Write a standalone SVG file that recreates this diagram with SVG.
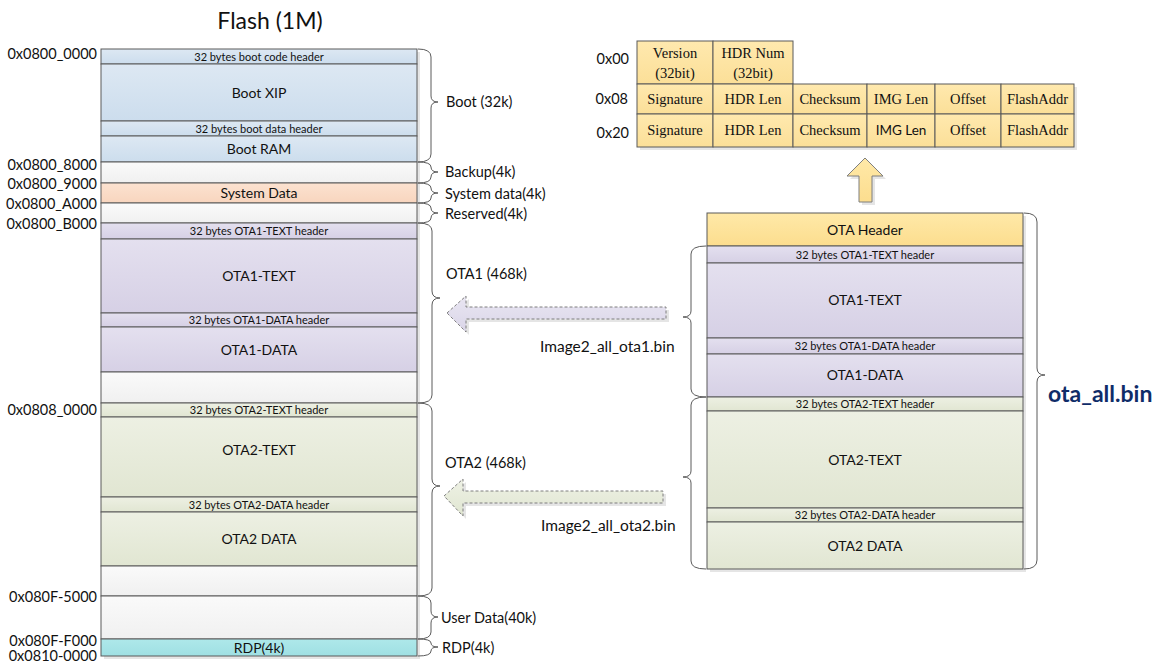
<svg xmlns="http://www.w3.org/2000/svg" width="1164" height="662" viewBox="0 0 1164 662">
  <defs>
    <linearGradient id="gBoot" x1="0" y1="0" x2="0" y2="1">
      <stop offset="0" stop-color="#DDE8F3"/><stop offset="1" stop-color="#CCDDED"/>
    </linearGradient>
    <linearGradient id="gEmpty" x1="0" y1="0" x2="0" y2="1">
      <stop offset="0" stop-color="#FAFAFA"/><stop offset="1" stop-color="#F0F0F0"/>
    </linearGradient>
    <linearGradient id="gSys" x1="0" y1="0" x2="0" y2="1">
      <stop offset="0" stop-color="#FCE2D0"/><stop offset="1" stop-color="#F8D5BE"/>
    </linearGradient>
    <linearGradient id="gOta1" x1="0" y1="0" x2="0" y2="1">
      <stop offset="0" stop-color="#E4E0EF"/><stop offset="1" stop-color="#D6D0E5"/>
    </linearGradient>
    <linearGradient id="gOta2" x1="0" y1="0" x2="0" y2="1">
      <stop offset="0" stop-color="#EDF0E3"/><stop offset="1" stop-color="#E1E6D2"/>
    </linearGradient>
    <linearGradient id="gRdp" x1="0" y1="0" x2="0" y2="1">
      <stop offset="0" stop-color="#AEE8EA"/><stop offset="1" stop-color="#9FE0E3"/>
    </linearGradient>
    <linearGradient id="gYel" x1="0" y1="0" x2="0" y2="1">
      <stop offset="0" stop-color="#FFE9A8"/><stop offset="1" stop-color="#FCDD8E"/>
    </linearGradient>
    <linearGradient id="gCell" x1="0" y1="0" x2="0" y2="1">
      <stop offset="0" stop-color="#FFE9AE"/><stop offset="1" stop-color="#FBDF98"/>
    </linearGradient>
    <linearGradient id="gArr1" x1="0" y1="0" x2="0" y2="1">
      <stop offset="0" stop-color="#E9E6F2"/><stop offset="1" stop-color="#DAD5E8"/>
    </linearGradient>
    <linearGradient id="gArr2" x1="0" y1="0" x2="0" y2="1">
      <stop offset="0" stop-color="#EEF1E5"/><stop offset="1" stop-color="#E0E6D1"/>
    </linearGradient>
  </defs>
  <style>
    .blk { stroke: #5A5A5A; stroke-width: 1; }
    .cell { fill: url(#gCell); stroke: #5A5A5A; stroke-width: 1; }
    .shadow { fill: #000; opacity: 0.10; }
    .t { font-family: Lato, "Open Sans", sans-serif; fill: #111; text-anchor: middle; }
    .big { font-size: 14px; }
    .small { font-size: 11px; }
    .addr { font-family: Lato, "Open Sans", sans-serif; font-size: 14.5px; fill: #111; text-anchor: end; }
    .lbl { font-family: Lato, "Open Sans", sans-serif; font-size: 14.5px; fill: #111; }
    .file { font-size: 15.5px; }
    .ser { font-family: "Liberation Serif", "Times New Roman", serif; font-size: 14.5px; fill: #111; text-anchor: middle; }
    .brace { fill: none; stroke: #5A5A5A; stroke-width: 1; }
  </style>

  <!-- title -->
  <text x="270" y="29" class="lbl" style="font-size:23px" text-anchor="middle">Flash (1M)</text>

  <!-- flash map, left column -->
  <g id="flash-map">
    <rect x="104" y="52" width="316" height="607" class="shadow"/>
    <g id="boot-code-header"><rect x="101" y="49" width="316" height="15" fill="url(#gBoot)" class="blk"/><text x="259" y="60.5" class="t small">32 bytes boot code header</text></g>
    <g id="boot-xip"><rect x="101" y="64" width="316" height="57" fill="url(#gBoot)" class="blk"/><text x="259" y="98" class="t big">Boot XIP</text></g>
    <g id="boot-data-header"><rect x="101" y="121" width="316" height="15" fill="url(#gBoot)" class="blk"/><text x="259" y="132.5" class="t small">32 bytes boot data header</text></g>
    <g id="boot-ram"><rect x="101" y="136" width="316" height="26" fill="url(#gBoot)" class="blk"/><text x="259" y="154" class="t big">Boot RAM</text></g>
    <g id="backup"><rect x="101" y="162" width="316" height="21" fill="url(#gEmpty)" class="blk"/></g>
    <g id="system-data"><rect x="101" y="183" width="316" height="20" fill="url(#gSys)" class="blk"/><text x="259" y="198" class="t big">System Data</text></g>
    <g id="reserved"><rect x="101" y="203" width="316" height="20" fill="url(#gEmpty)" class="blk"/></g>
    <g id="ota1-text-header"><rect x="101" y="223" width="316" height="16" fill="url(#gOta1)" class="blk"/><text x="259" y="234.5" class="t small">32 bytes OTA1-TEXT header</text></g>
    <g id="ota1-text"><rect x="101" y="239" width="316" height="74" fill="url(#gOta1)" class="blk"/><text x="259" y="281" class="t big">OTA1-TEXT</text></g>
    <g id="ota1-data-header"><rect x="101" y="313" width="316" height="14" fill="url(#gOta1)" class="blk"/><text x="259" y="324" class="t small">32 bytes OTA1-DATA header</text></g>
    <g id="ota1-data"><rect x="101" y="327" width="316" height="45" fill="url(#gOta1)" class="blk"/><text x="259" y="355" class="t big">OTA1-DATA</text></g>
    <g id="ota1-free"><rect x="101" y="372" width="316" height="31" fill="url(#gEmpty)" class="blk"/></g>
    <g id="ota2-text-header"><rect x="101" y="403" width="316" height="14" fill="url(#gOta2)" class="blk"/><text x="259" y="414" class="t small">32 bytes OTA2-TEXT header</text></g>
    <g id="ota2-text"><rect x="101" y="417" width="316" height="80" fill="url(#gOta2)" class="blk"/><text x="259" y="455" class="t big">OTA2-TEXT</text></g>
    <g id="ota2-data-header"><rect x="101" y="497" width="316" height="15" fill="url(#gOta2)" class="blk"/><text x="259" y="508.5" class="t small">32 bytes OTA2-DATA header</text></g>
    <g id="ota2-data"><rect x="101" y="512" width="316" height="54" fill="url(#gOta2)" class="blk"/><text x="259" y="544" class="t big">OTA2 DATA</text></g>
    <g id="ota2-free"><rect x="101" y="566" width="316" height="30" fill="url(#gEmpty)" class="blk"/></g>
    <g id="user-data"><rect x="101" y="596" width="316" height="43" fill="url(#gEmpty)" class="blk"/></g>
    <g id="rdp"><rect x="101" y="639" width="316" height="17" fill="url(#gRdp)" class="blk"/><text x="259" y="653" class="t big">RDP(4k)</text></g>
  </g>

  <!-- addresses -->
  <g id="addresses">
    <text x="97" y="59" class="addr">0x0800_0000</text>
    <text x="97" y="170" class="addr">0x0800_8000</text>
    <text x="97" y="189" class="addr">0x0800_9000</text>
    <text x="97" y="209" class="addr">0x0800_A000</text>
    <text x="97" y="229" class="addr">0x0800_B000</text>
    <text x="97" y="415" class="addr">0x0808_0000</text>
    <text x="97" y="602" class="addr">0x080F-5000</text>
    <text x="97" y="646" class="addr">0x080F-F000</text>
    <text x="97" y="661" class="addr">0x0810-0000</text>
  </g>

  <!-- region labels -->
  <g id="region-labels">
    <text x="446" y="107" class="lbl">Boot (32k)</text>
    <text x="445" y="177" class="lbl">Backup(4k)</text>
    <text x="445" y="199" class="lbl">System data(4k)</text>
    <text x="445" y="219" class="lbl">Reserved(4k)</text>
    <text x="446" y="279" class="lbl">OTA1 (468k)</text>
    <text x="445" y="468" class="lbl">OTA2 (468k)</text>
    <text x="441" y="623" class="lbl">User Data(40k)</text>
    <text x="442" y="653" class="lbl">RDP(4k)</text>
    <text x="540" y="352" class="lbl file">Image2_all_ota1.bin</text>
    <text x="541" y="531" class="lbl file">Image2_all_ota2.bin</text>
    <text x="1048" y="402" class="lbl" style="font-size:23px;font-weight:bold;fill:#0F2C68">ota_all.bin</text>
  </g>

  <!-- OTA image, right column -->
  <g id="ota-image">
    <rect x="710" y="216" width="316" height="356" class="shadow"/>
    <g id="ota-header"><rect x="707" y="213" width="316" height="33" fill="url(#gYel)" class="blk"/><text x="865" y="235" class="t big">OTA Header</text></g>
    <g id="img-ota1-text-header"><rect x="707" y="246" width="316" height="17" fill="url(#gOta1)" class="blk"/><text x="865" y="258.5" class="t small">32 bytes OTA1-TEXT header</text></g>
    <g id="img-ota1-text"><rect x="707" y="263" width="316" height="75" fill="url(#gOta1)" class="blk"/><text x="865" y="305" class="t big">OTA1-TEXT</text></g>
    <g id="img-ota1-data-header"><rect x="707" y="338" width="316" height="16" fill="url(#gOta1)" class="blk"/><text x="865" y="350" class="t small">32 bytes OTA1-DATA header</text></g>
    <g id="img-ota1-data"><rect x="707" y="354" width="316" height="43" fill="url(#gOta1)" class="blk"/><text x="865" y="380" class="t big">OTA1-DATA</text></g>
    <g id="img-ota2-text-header"><rect x="707" y="397" width="316" height="14" fill="url(#gOta2)" class="blk"/><text x="865" y="408" class="t small">32 bytes OTA2-TEXT header</text></g>
    <g id="img-ota2-text"><rect x="707" y="411" width="316" height="97" fill="url(#gOta2)" class="blk"/><text x="865" y="465" class="t big">OTA2-TEXT</text></g>
    <g id="img-ota2-data-header"><rect x="707" y="508" width="316" height="14" fill="url(#gOta2)" class="blk"/><text x="865" y="519" class="t small">32 bytes OTA2-DATA header</text></g>
    <g id="img-ota2-data"><rect x="707" y="522" width="316" height="47" fill="url(#gOta2)" class="blk"/><text x="865" y="551" class="t big">OTA2 DATA</text></g>
  </g>

  <!-- OTA header layout table -->
  <g id="header-table">
    <rect x="640" y="44" width="153" height="43" class="shadow"/>
    <rect x="640" y="87" width="437" height="63" class="shadow"/>
    <g id="row-00">
      <rect x="637" y="41" width="76" height="43" class="cell"/>
      <rect x="713" y="41" width="80" height="43" class="cell"/>
      <text x="675" y="58" class="ser">Version</text><text x="675" y="78" class="ser">(32bit)</text>
      <text x="753" y="58" class="ser">HDR Num</text><text x="753" y="78" class="ser">(32bit)</text>
    </g>
    <g id="row-08">
      <rect x="637" y="84" width="76" height="30" class="cell"/>
      <rect x="713" y="84" width="80" height="30" class="cell"/>
      <rect x="793" y="84" width="74" height="30" class="cell"/>
      <rect x="867" y="84" width="68" height="30" class="cell"/>
      <rect x="935" y="84" width="66" height="30" class="cell"/>
      <rect x="1001" y="84" width="73" height="30" class="cell"/>
      <text x="675" y="104" class="ser">Signature</text>
      <text x="753" y="104" class="ser">HDR Len</text>
      <text x="830" y="104" class="ser">Checksum</text>
      <text x="901" y="104" class="ser">IMG Len</text>
      <text x="968" y="104" class="ser">Offset</text>
      <text x="1037.5" y="104" class="ser">FlashAddr</text>
    </g>
    <g id="row-20">
      <rect x="637" y="114" width="76" height="33" class="cell"/>
      <rect x="713" y="114" width="80" height="33" class="cell"/>
      <rect x="793" y="114" width="74" height="33" class="cell"/>
      <rect x="867" y="114" width="68" height="33" class="cell"/>
      <rect x="935" y="114" width="66" height="33" class="cell"/>
      <rect x="1001" y="114" width="73" height="33" class="cell"/>
      <text x="675" y="135" class="ser">Signature</text>
      <text x="753" y="135" class="ser">HDR Len</text>
      <text x="830" y="135" class="ser">Checksum</text>
      <text x="901" y="135" class="t" style="font-size:13.5px">IMG Len</text>
      <text x="968" y="135" class="ser">Offset</text>
      <text x="1037.5" y="135" class="ser">FlashAddr</text>
    </g>
    <text x="629" y="64" class="addr">0x00</text>
    <text x="628" y="104" class="addr">0x08</text>
    <text x="629" y="138" class="addr">0x20</text>
  </g>

  <!-- connectors: braces and arrows -->
  <g id="connectors">
    <!-- left column braces -->
    <path class="brace" d="M418,49 Q431,49 431,57 L431,96 Q431,102 438,102 Q431,102 431,108 L431,154 Q431,162 418,162"/>
    <path class="brace" d="M418,162 Q431,162 431,167 Q431,172 438,172 Q431,172 431,177 Q431,183 418,183"/>
    <path class="brace" d="M418,183 Q431,183 431,188 Q431,193 438,193 Q431,193 431,198 Q431,203 418,203"/>
    <path class="brace" d="M418,203 Q431,203 431,208 Q431,213 438,213 Q431,213 431,218 Q431,223 418,223"/>
    <path class="brace" d="M418,223 Q432,223 432,231 L432,291 Q432,298 440,298 Q432,298 432,305 L432,395 Q432,403 418,403"/>
    <path class="brace" d="M418,403 Q432,403 432,411 L432,479 Q432,486 440,486 Q432,486 432,493 L432,588 Q432,596 418,596"/>
    <path class="brace" d="M418,596 Q431,596 431,603 L431,611 Q431,617 438,617 Q431,617 431,623 L431,632 Q431,639 418,639"/>
    <path class="brace" d="M418,639 Q431,639 431,643 Q431,647 438,647 Q431,647 431,651 Q431,656 418,656"/>
    <!-- right column braces -->
    <path class="brace" d="M706,246 Q691,246 691,254 L691,311 Q691,317 683,317 Q691,317 691,323 L691,389 Q691,397 706,397"/>
    <path class="brace" d="M706,397 Q691,397 691,405 L691,471 Q691,477 683,477 Q691,477 691,483 L691,561 Q691,569 706,569"/>
    <path class="brace" d="M1024,213 Q1037,213 1037,222 L1037,368 Q1037,375 1045,375 Q1037,375 1037,382 L1037,560 Q1037,569 1024,569"/>

    <!-- image arrows into flash -->
    <polygon points="450,316 469,299 469,310 669,310 669,322 469,322 469,335" class="shadow"/>
    <polygon points="447,313 466,296 466,307 666,307 666,319 466,319 466,332" fill="url(#gArr1)" stroke="#7F7F7F" stroke-width="1" stroke-dasharray="3,2"/>
    <polygon points="447,499 466,482 466,494 666,494 666,506 466,506 466,519" class="shadow"/>
    <polygon points="444,496 463,479 463,491 663,491 663,503 463,503 463,516" fill="url(#gArr2)" stroke="#7F7F7F" stroke-width="1" stroke-dasharray="3,2"/>

    <!-- header expansion arrow -->
    <polygon points="868,161 886,179 875,179 875,205 862,205 862,179 850,179" class="shadow"/>
    <polygon points="865,158 883,176 872,176 872,202 859,202 859,176 847,176" fill="url(#gYel)" stroke="#7F7F7F" stroke-width="1"/>
  </g>
</svg>
